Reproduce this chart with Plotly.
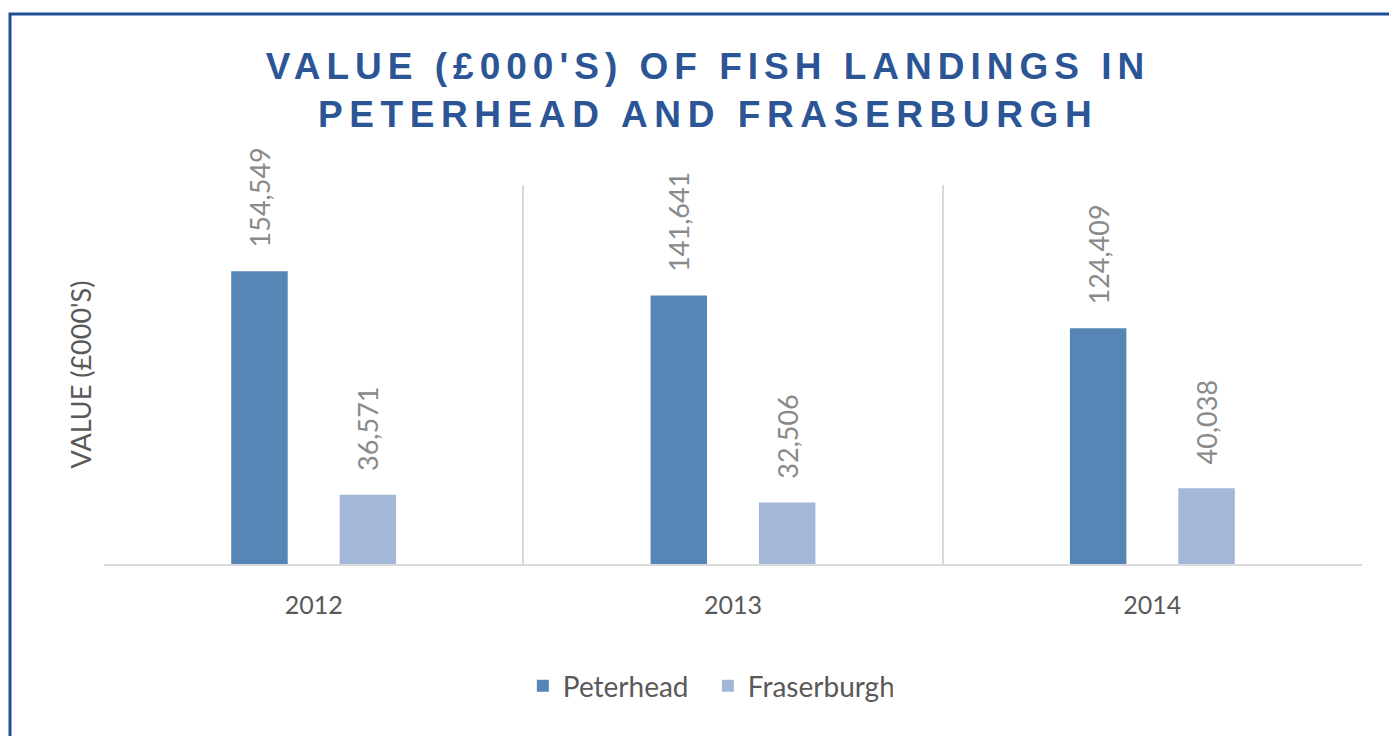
import plotly.graph_objects as go

years = ["2012", "2013", "2014"]
peterhead = [154549, 141641, 124409]
fraserburgh = [36571, 32506, 40038]
series_names = ["Peterhead", "Fraserburgh"]
title_lines = ["VALUE (£000'S) OF FISH LANDINGS IN", "PETERHEAD AND FRASERBURGH"]
y_title = "VALUE (£000'S)"

C_PETER = "#5586B6"
C_FRASER = "#A3B7D8"
TXT = "#595959"
LBL = "#8A8A8A"
FONT = "Lato"

# the page body has an 8px margin; figure pixel = page pixel - 8
W, H = 1389, 728
PAD = "\u00a0" * 3  # spacing between bar top and its rotated label


def labels(vals):
    return [PAD + f"{v:,}" for v in vals]


fig = go.Figure()
for name, vals, col in ((series_names[0], peterhead, C_PETER),
                        (series_names[1], fraserburgh, C_FRASER)):
    fig.add_trace(go.Bar(
        x=years, y=vals, name=name,
        marker=dict(color=col, line=dict(width=0)),
        text=labels(vals), textposition="outside", textangle=-90,
        constraintext="none", cliponaxis=False,
        textfont=dict(family=FONT, size=27, color=LBL),
        hovertemplate="%{x}: %{y:,}<extra>" + name + "</extra>"))

title_html = (f'<span style="letter-spacing:6px">{title_lines[0]}</span><br>'
              f'<span style="letter-spacing:6.6px">{title_lines[1]}</span>')

fig.update_layout(
    width=W, height=H,
    margin=dict(l=96, r=W - 1354, t=177, b=H - 556),
    paper_bgcolor="white", plot_bgcolor="white",
    barmode="group", bargap=0.483, bargroupgap=0.479,
    title=dict(text=title_html, x=0.504, xanchor="center",
               y=1 - 70.5 / H, yanchor="middle", yref="container",
               font=dict(family="Liberation Sans", size=37, color="#2C5596",
                         weight="bold")),
    showlegend=True,
    legend=dict(orientation="h", x=0.48, xanchor="center", y=-0.322,
                yanchor="middle", font=dict(family=FONT, size=28, color=TXT),
                itemwidth=30, entrywidth=140, entrywidthmode="pixels",
                traceorder="normal"),
    xaxis=dict(type="category", range=[-0.5, 2.5], tickson="boundaries",
               showgrid=True, gridcolor="#D9D9D9", gridwidth=1.5,
               showline=True, linecolor="#D9D9D9", linewidth=1.5,
               ticks="", ticklabelstandoff=18,
               tickfont=dict(family=FONT, size=25, color=TXT)),
    yaxis=dict(range=[0, 200000], showgrid=False, showticklabels=False,
               zeroline=False, showline=False, ticks="",
               title=dict(text=y_title, standoff=3,
                          font=dict(family=FONT, size=27, color=TXT))),
    shapes=[dict(type="rect", xref="paper", yref="paper",
                 x0=(2 - 96) / 1258, x1=1.3, y0=-1.0, y1=(556 - 6) / 379,
                 line=dict(color="#1F4F97", width=3),
                 layer="below")],
)

fig.write_html("out.html")
